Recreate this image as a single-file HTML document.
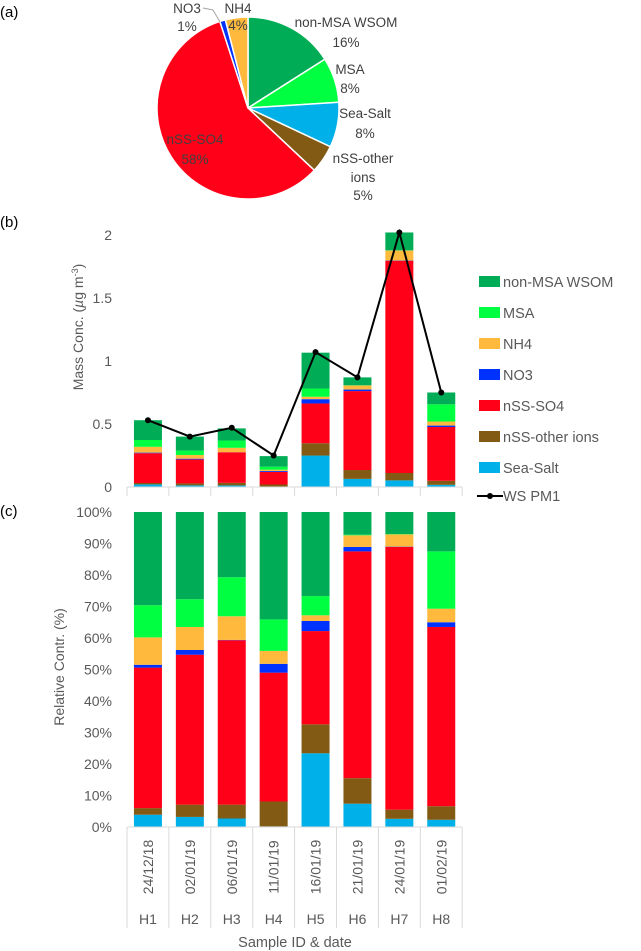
<!DOCTYPE html>
<html><head><meta charset="utf-8"><style>
body{margin:0;background:#fff;}
svg{display:block;font-family:"Liberation Sans",sans-serif;}
</style></head><body>
<svg id="c" width="641" height="951" viewBox="0 0 641 951" xmlns="http://www.w3.org/2000/svg"></svg>
<script>
const names=["Sea-Salt","nSS-other ions","nSS-SO4","NO3","NH4","MSA","non-MSA WSOM"];
const colors=["#00b0e8","#825a14","#ff0018","#0032ff","#ffb93c","#00ff40","#00ac55"];
const categories=["H1","H2","H3","H4","H5","H6","H7","H8"];
const dates=["24/12/18","02/01/19","06/01/19","11/01/19","16/01/19","21/01/19","24/01/19","01/02/19"];
// relative contributions (%) per category
const seaSalt=[3.9,3.2,2.7,0.2,23.4,7.4,2.6,2.3];
const nssOther=[2.1,3.9,4.4,7.9,9.2,8.1,2.9,4.3];
const nssSO4=[44.6,47.6,52.2,40.9,29.6,72.0,83.4,56.9];
const no3=[0.9,1.5,0.1,2.8,3.2,1.4,0.1,1.5];
const nh4=[8.7,7.3,7.5,4.1,1.8,3.7,3.9,4.3];
const msa=[10.2,8.8,12.4,10.0,6.1,0.2,0.1,18.2];
const wsom=[29.6,27.7,20.7,34.1,26.7,7.2,7.0,12.5];
const totals=[0.53,0.40,0.465,0.245,1.066,0.87,2.02,0.75];
const wsPM1=[0.53,0.40,0.47,0.25,1.07,0.87,2.02,0.75];
const massTicks=[0,0.5,1,1.5,2];
const pctTicks=[0,10,20,30,40,50,60,70,80,90,100];
const pieNames=["non-MSA WSOM","MSA","Sea-Salt","nSS-other ions","nSS-SO4","NO3","NH4"];
const pieValues=[16,8,8,5,58,1,4];
const pieColors=["#00ac55","#00ff40","#00b0e8","#825a14","#ff0018","#0032ff","#ffb93c"];

const series=[seaSalt,nssOther,nssSO4,no3,nh4,msa,wsom];
const svg=document.getElementById('c');
const NS="http://www.w3.org/2000/svg";
function mk(t,a,p){const e=document.createElementNS(NS,t);for(const k in a)e.setAttribute(k,a[k]);(p||svg).appendChild(e);return e;}
function txt(x,y,s,a){const e=mk('text',Object.assign({x:x,y:y,'font-size':13,fill:'#595959'},a||{}));e.textContent=s;return e;}

let t;
t=txt(0,17,"(a)",{'font-size':15,fill:'#000'});
t=txt(0,227,"(b)",{'font-size':15,fill:'#000'});
t=txt(0,516,"(c)",{'font-size':15,fill:'#000'});

const cx=248,cy=108,r=91;
let a0=0;const tot=pieValues.reduce((a,b)=>a+b,0);
pieValues.forEach((v,i)=>{
  const a1=a0+v/tot*2*Math.PI;
  const x0=cx+r*Math.sin(a0),y0=cy-r*Math.cos(a0),x1=cx+r*Math.sin(a1),y1=cy-r*Math.cos(a1);
  const p=mk('path',{d:`M${cx},${cy}L${x0},${y0}A${r},${r} 0 ${a1-a0>Math.PI?1:0} 1 ${x1},${y1}Z`,fill:pieColors[i],stroke:'#fff','stroke-width':1.5});
  
  
  a0=a1;
});
const pl=[[346,27,"non-MSA WSOM"],[346,47,"16%"],[350,74,"MSA"],[350,93,"8%"],[365,118,"Sea-Salt"],[365,138,"8%"],[363,163,"nSS-other"],[363,182,"ions"],[363,200,"5%"],[195,144,"nSS-SO4"],[195,164,"58%"],[187,13,"NO3"],[187,31,"1%"],[238,13,"NH4"],[238,30,"4%"]];
pl.forEach(l=>{const e=txt(l[0],l[1],l[2],{'text-anchor':'middle',fill:'#404040','font-size':13.5});});
mk('polyline',{points:'203,8 213,10 220,22',fill:'none',stroke:'#a6a6a6','stroke-width':1});

const X0=127,CW=41.9,BW=28;
function xc(i){return X0+CW*i+CW/2;}
const yb0=487,ybS=126;function yb(v){return yb0-v*ybS;}
const yc0=827,ycS=3.15;function yc(v){return yc0-v*ycS;}

massTicks.forEach(v=>{const e=txt(112,yb(v)+5,String(v),{'text-anchor':'end','font-size':14});});
t=txt(0,0,"",{'font-size':14,'text-anchor':'middle',transform:'translate(83,327) rotate(-90)'});
t.innerHTML='Mass Conc. (<tspan font-style="italic">µ</tspan>g m<tspan dy="-5" font-size="9">-3</tspan><tspan dy="5">)</tspan>';


categories.forEach((c,i)=>{
  let acc=0;
  series.forEach((s,k)=>{
    const v=s[i]/100*totals[i];
    const rc=mk('rect',{x:xc(i)-BW/2,y:yb(acc+v),width:BW,height:v*ybS,fill:colors[k]});
    
    acc+=v;
  });
});
mk('line',{x1:X0,y1:yb0,x2:X0+CW*8,y2:yb0,stroke:'#d9d9d9'});
for(let i=0;i<=8;i++)mk('line',{x1:X0+CW*i,y1:yb0,x2:X0+CW*i,y2:yb0+9,stroke:'#d9d9d9'});
const ln=mk('polyline',{points:wsPM1.map((v,i)=>xc(i)+','+yb(v)).join(' '),fill:'none',stroke:'#000','stroke-width':2});

wsPM1.forEach((v,i)=>{const d=mk('circle',{cx:xc(i),cy:yb(v),r:3,fill:'#000'});});

const lgNames=["non-MSA WSOM","MSA","NH4","NO3","nSS-SO4","nSS-other ions","Sea-Salt"];
const lgColors=["#00ac55","#00ff40","#ffb93c","#0032ff","#ff0018","#825a14","#00b0e8"];
lgNames.forEach((n,i)=>{
  const y=282+i*31;
  const g=mk('g',{});
  
  mk('rect',{x:479,y:y-6,width:21,height:11,fill:lgColors[i]},g);
  const e=mk('text',{x:503,y:y+5,'font-size':14.5,fill:'#595959'},g);e.textContent=n;
});
{const g=mk('g',{});
mk('line',{x1:477,y1:496,x2:503,y2:496,stroke:'#000','stroke-width':2},g);mk('circle',{cx:490,cy:496,r:3,fill:'#000'},g);
const e=mk('text',{x:503,y:501,'font-size':14.5,fill:'#595959'},g);e.textContent="WS PM1";}

pctTicks.forEach(v=>{const e=txt(112,yc(v)+5,v+'%',{'text-anchor':'end','font-size':14});});
t=txt(0,0,"Relative Contr. (%)",{'font-size':14,'text-anchor':'middle',transform:'translate(64,667) rotate(-90)'});

categories.forEach((c,i)=>{
  let acc=0;
  series.forEach((s,k)=>{
    const v=s[i];
    const rc=mk('rect',{x:xc(i)-BW/2,y:yc(acc+v),width:BW,height:v*ycS,fill:colors[k]});
    
    acc+=v;
  });
  const d=txt(0,0,dates[i],{'font-size':14,'text-anchor':'middle',transform:`translate(${xc(i)+5},867) rotate(-90)`});
  
  const h=txt(xc(i),924,c,{'font-size':14,'text-anchor':'middle'});
  
});
mk('line',{x1:X0,y1:yc0,x2:X0+CW*8,y2:yc0,stroke:'#d9d9d9'});
for(let i=0;i<=8;i++)mk('line',{x1:X0+CW*i,y1:yc0,x2:X0+CW*i,y2:928,stroke:'#d9d9d9'});
t=txt(295,947,"Sample ID & date",{'font-size':14.5,'text-anchor':'middle'});

</script>
</body></html>
